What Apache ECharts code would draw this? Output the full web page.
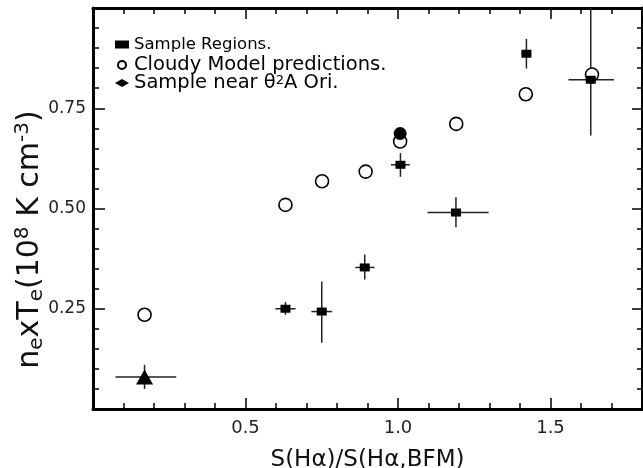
<!DOCTYPE html>
<html>
<head>
<meta charset="utf-8">
<script src="https://cdn.jsdelivr.net/npm/echarts@6/dist/echarts.min.js"></script>
<style>
  html, body { margin: 0; padding: 0; background: #fff; }
  #chart { width: 643px; height: 468px; }
</style>
</head>
<body>
<div id="chart"></div>
<script>
// sample regions (filled squares) with error bars
const sampleX = [0.631, 0.750, 0.891, 1.008, 1.190, 1.421, 1.632]
const sampleY = [0.250, 0.243, 0.353, 0.609, 0.490, 0.886, 0.821]
const sampleXLo = [0.598, 0.716, 0.860, 0.977, 1.097, 1.405, 1.559]
const sampleXHi = [0.664, 0.784, 0.923, 1.039, 1.297, 1.437, 1.708]
const sampleYLo = [0.235, 0.165, 0.323, 0.579, 0.453, 0.849, 0.682]
const sampleYHi = [0.267, 0.318, 0.385, 0.638, 0.528, 0.923, 1.0]

// cloudy model predictions (open circles)
const cloudyX = [0.169, 0.631, 0.751, 0.894, 1.007, 1.191, 1.419, 1.636]
const cloudyY = [0.235, 0.509, 0.568, 0.592, 0.667, 0.711, 0.785, 0.834]

// filled circle at 1.0
const filledX = [1.007]
const filledY = [0.687]

// sample near theta2 A Ori (triangle)
const oriX = [0.169]
const oriY = [0.080]
const oriXLo = [0.074]
const oriXHi = [0.273]
const oriYLo = [0.05]
const oriYHi = [0.11]

const xTickLabels = ['0.5', '1.0', '1.5']
const yTickLabels = ['0.25', '0.50', '0.75']

const font = 'DejaVu Sans, Liberation Sans, sans-serif'

const errRows = sampleX.map((x, i) => [x, sampleY[i], sampleXLo[i], sampleXHi[i], sampleYLo[i], sampleYHi[i]])
  .concat(oriX.map((x, i) => [x, oriY[i], oriXLo[i], oriXHi[i], oriYLo[i], oriYHi[i]]))

function renderErr(params, api) {
  const x = api.value(0)
  const y = api.value(1)
  const l = api.coord([api.value(2), y])
  const r = api.coord([api.value(3), y])
  const b = api.coord([x, api.value(4)])
  const t = api.coord([x, api.value(5)])
  const st = { stroke: '#222', lineWidth: 1.5 }
  return {
    type: 'group',
    children: [
      { type: 'line', shape: { x1: l[0], y1: l[1], x2: r[0], y2: r[1] }, style: st },
      { type: 'line', shape: { x1: b[0], y1: b[1], x2: t[0], y2: t[1] }, style: st }
    ]
  }
}

function xLabel(v) {
  const s = v.toFixed(1)
  return xTickLabels.indexOf(s) >= 0 ? s : ''
}
function yLabel(v) {
  const s = v.toFixed(2)
  return yTickLabels.indexOf(s) >= 0 ? s : ''
}

// onZero off, otherwise the top/right axes jump onto the zero lines
const frame = { show: true, onZero: false, lineStyle: { color: '#000', width: 3 } }
const noLine = { show: false, onZero: false }
const tickLine = { color: '#000', width: 1.5 }

function xAx(pos, step, len, withLabels) {
  return {
    type: 'value', position: pos, min: 0, max: 1.8, interval: step,
    axisLine: len < 8 ? frame : noLine,
    axisTick: { show: true, inside: true, length: len, lineStyle: tickLine },
    axisLabel: withLabels
      ? { show: true, formatter: xLabel, fontFamily: font, fontSize: 18, color: '#222', margin: 10 }
      : { show: false },
    splitLine: { show: false }
  }
}

const option = {
  animation: false,
  grid: { left: 93, right: 1, top: 8, bottom: 59, outerBoundsMode: 'none', containLabel: false },
  legend: {
    orient: 'vertical',
    left: 110,
    top: 27,
    itemGap: -2,
    itemWidth: 14,
    itemHeight: 8,
    textStyle: {
      fontFamily: font, fontSize: 19.5, lineHeight: 17, color: '#000',
      rich: { sup: { fontFamily: font, fontSize: 13, verticalAlign: 'top', lineHeight: 12 } }
    },
    formatter: function (name) {
      return name === 'Sample near θ2A Ori.' ? 'Sample near θ{sup|2}A Ori.' : name
    },
    data: [
      { name: 'Sample Regions.', icon: 'rect', textStyle: { fontSize: 16.5, lineHeight: 25 } },
      { name: 'Cloudy Model predictions.', icon: 'circle' },
      { name: 'Sample near θ2A Ori.', icon: 'diamond' }
    ]
  },
  xAxis: [
    Object.assign(xAx('bottom', 0.1, 6, true), {
      name: 'S(Hα)/S(Hα,BFM)',
      nameLocation: 'middle',
      nameGap: 40,
      nameTextStyle: { fontFamily: font, fontSize: 23, color: '#111' }
    }),
    xAx('bottom', 0.5, 11, false),
    xAx('top', 0.1, 6, false),
    xAx('top', 0.5, 11, false)
  ],
  yAxis: [
    {
      type: 'value', position: 'left', min: 0, max: 1, interval: 0.25,
      axisLine: frame,
      axisTick: { show: true, inside: true, length: 12, lineStyle: tickLine },
      minorTick: { show: true, splitNumber: 5, length: 6, lineStyle: tickLine },
      axisLabel: { formatter: yLabel, fontFamily: font, fontSize: 17, color: '#222', margin: 7 },
      splitLine: { show: false },
      name: 'n{sub|e}xT{sub|e}(10{sup|8} K cm{sup|-3})',
      nameLocation: 'middle',
      nameRotate: 90,
      nameGap: 46,
      nameMoveOverlap: false,
      nameTextStyle: {
        fontFamily: font, fontSize: 30, color: '#111', lineHeight: 34,
        padding: [0, 62, 0, 0],
        rich: {
          sub: { fontFamily: font, fontSize: 20, verticalAlign: 'bottom', lineHeight: 20 },
          sup: { fontFamily: font, fontSize: 20, verticalAlign: 'top', lineHeight: 20 }
        }
      }
    },
    {
      type: 'value', position: 'right', min: 0, max: 1, interval: 0.25,
      axisLine: frame,
      axisTick: { show: true, inside: true, length: 10, lineStyle: tickLine },
      minorTick: { show: true, splitNumber: 5, length: 5, lineStyle: tickLine },
      axisLabel: { show: false },
      splitLine: { show: false }
    }
  ],
  series: [
    {
      name: 'errors',
      type: 'custom',
      xAxisIndex: 0, yAxisIndex: 0,
      renderItem: renderErr,
      encode: { x: [0, 2, 3], y: [1, 4, 5] },
      data: errRows,
      z: 1
    },
    {
      name: 'Cloudy Model predictions.',
      type: 'scatter',
      xAxisIndex: 0, yAxisIndex: 0,
      symbol: 'circle',
      symbolSize: 13,
      itemStyle: { color: '#fff', borderColor: '#000', borderWidth: 1.6, opacity: 1 },
      data: cloudyX.map((x, i) => [x, cloudyY[i]]),
      z: 2
    },
    {
      name: 'filled',
      type: 'scatter',
      xAxisIndex: 0, yAxisIndex: 0,
      symbol: 'circle',
      symbolSize: 13,
      itemStyle: { color: '#000', opacity: 1 },
      data: filledX.map((x, i) => [x, filledY[i]]),
      z: 3
    },
    {
      name: 'Sample Regions.',
      type: 'scatter',
      xAxisIndex: 0, yAxisIndex: 0,
      symbol: 'rect',
      symbolSize: [10, 8],
      itemStyle: { color: '#000', opacity: 1 },
      data: sampleX.map((x, i) => [x, sampleY[i]]),
      z: 4
    },
    {
      name: 'Sample near θ2A Ori.',
      type: 'scatter',
      xAxisIndex: 0, yAxisIndex: 0,
      symbol: 'triangle',
      symbolSize: [17, 15],
      itemStyle: { color: '#000', opacity: 1 },
      data: oriX.map((x, i) => [x, oriY[i]]),
      z: 4
    }
  ]
}

const myChart = echarts.init(document.getElementById('chart'))
myChart.setOption(option)
window.addEventListener('resize', function () {
  myChart.resize()
})
</script>
</body>
</html>
